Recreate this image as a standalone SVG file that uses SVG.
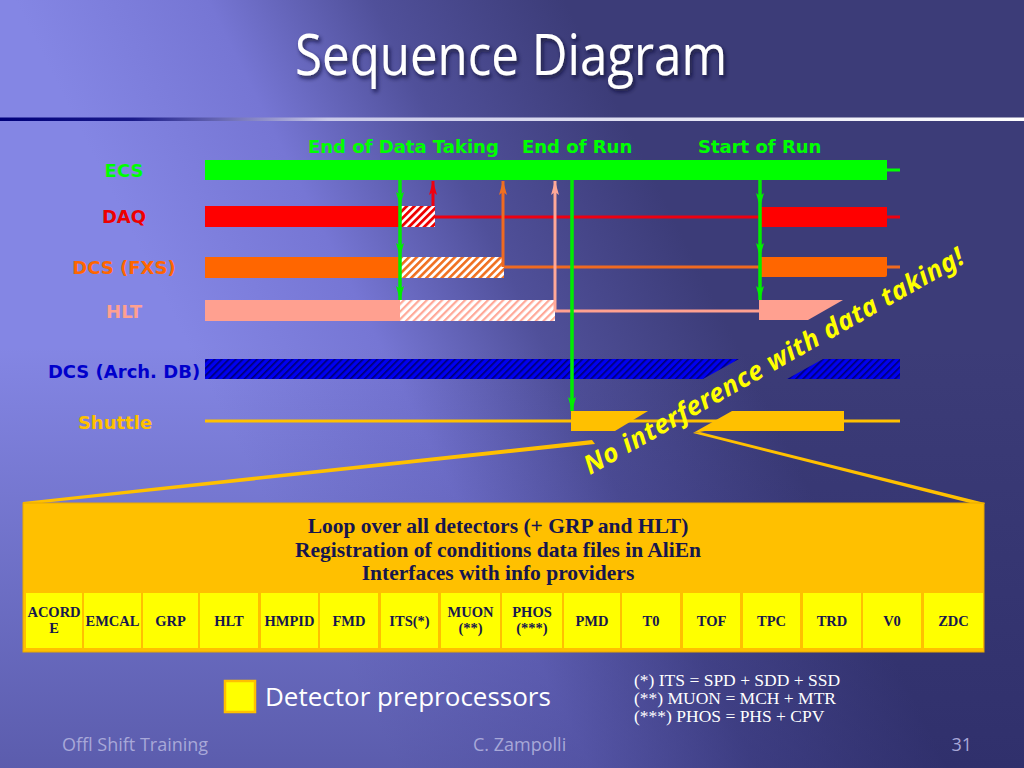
<svg xmlns="http://www.w3.org/2000/svg" width="1024" height="768" viewBox="0 0 1024 768">
<defs>
  <linearGradient id="bg" gradientUnits="userSpaceOnUse" x1="180" y1="330" x2="620" y2="110">
    <stop offset="0" stop-color="#8486e4"/>
    <stop offset="0.35" stop-color="#7676d4"/>
    <stop offset="0.65" stop-color="#50509a"/>
    <stop offset="1" stop-color="#3c3c78"/>
  </linearGradient>
  <linearGradient id="shade" x1="0" y1="0" x2="0" y2="1">
    <stop offset="0" stop-color="#1e1e5a" stop-opacity="0"/>
    <stop offset="0.45" stop-color="#1e1e5a" stop-opacity="0"/>
    <stop offset="1" stop-color="#1e1e5a" stop-opacity="0.4"/>
  </linearGradient>
  <linearGradient id="rule" x1="0" y1="0" x2="1" y2="0">
    <stop offset="0" stop-color="#00007a"/>
    <stop offset="0.13" stop-color="#1a1a8a"/>
    <stop offset="0.32" stop-color="#c8c8e8"/>
    <stop offset="1" stop-color="#ffffff"/>
  </linearGradient>
  <pattern id="hRed" patternUnits="userSpaceOnUse" width="5.4" height="10" patternTransform="rotate(45)">
    <rect width="5.4" height="10" fill="#ffffff"/>
    <rect width="2.8" height="10" fill="#ee0000"/>
  </pattern>
  <pattern id="hOrange" patternUnits="userSpaceOnUse" width="5.4" height="10" patternTransform="rotate(45)">
    <rect width="5.4" height="10" fill="#ffffff"/>
    <rect width="2.6" height="10" fill="#f07020"/>
  </pattern>
  <pattern id="hPink" patternUnits="userSpaceOnUse" width="5.4" height="10" patternTransform="rotate(45)">
    <rect width="5.4" height="10" fill="#ffffff"/>
    <rect width="2.2" height="10" fill="#ffa898"/>
  </pattern>
  <pattern id="hBlue" patternUnits="userSpaceOnUse" width="5" height="10" patternTransform="rotate(45)">
    <rect width="5" height="10" fill="#0000f0"/>
    <rect width="1.6" height="10" fill="#000070"/>
  </pattern>
  <marker id="aG" markerUnits="userSpaceOnUse" viewBox="0 0 14 8" markerWidth="14" markerHeight="8" refX="14" refY="4" orient="auto">
    <path d="M0,0 L14,4 L0,8 L3,4 z" fill="#00ee00"/>
  </marker>
  <marker id="aR" markerUnits="userSpaceOnUse" viewBox="0 0 14 8" markerWidth="14" markerHeight="8" refX="14" refY="4" orient="auto">
    <path d="M0,0 L14,4 L0,8 L3,4 z" fill="#ee0010"/>
  </marker>
  <marker id="aO" markerUnits="userSpaceOnUse" viewBox="0 0 14 8" markerWidth="14" markerHeight="8" refX="14" refY="4" orient="auto">
    <path d="M0,0 L14,4 L0,8 L3,4 z" fill="#f07020"/>
  </marker>
  <marker id="aP" markerUnits="userSpaceOnUse" viewBox="0 0 14 8" markerWidth="14" markerHeight="8" refX="14" refY="4" orient="auto">
    <path d="M0,0 L14,4 L0,8 L3,4 z" fill="#ffa898"/>
  </marker>
  <filter id="shadow" x="-10%" y="-30%" width="120%" height="160%">
    <feDropShadow dx="2" dy="3" stdDeviation="2" flood-color="#101030" flood-opacity="0.8"/>
  </filter>
</defs>
<style>
  .lbl { font-family: "DejaVu Sans", Verdana, sans-serif; font-weight: bold; font-size: 18px; text-anchor: middle; }
  .evt { font-family: "DejaVu Sans", Verdana, sans-serif; font-weight: bold; font-size: 18px; fill: #00ff00; }
  .panel { font-family: "Liberation Serif", "Times New Roman", serif; font-weight: bold; font-size: 21.5px; fill: #16164e; text-anchor: middle; }
  .cell { fill: #ffff00; }
  .ct { font-family: "Liberation Serif", "Times New Roman", serif; font-weight: bold; font-size: 14.5px; fill: #16164e; text-anchor: middle; }
  .note { font-family: "Liberation Serif", "Times New Roman", serif; font-size: 17.5px; fill: #ffffff; }
  .foot { font-family: "Open Sans", "Noto Sans", sans-serif; font-size: 18px; fill: #a8a8d8; }
  .g { stroke: #00ee00; stroke-width: 3.5; fill: none; }
</style>

<rect width="1024" height="768" fill="url(#bg)"/>
<rect width="1024" height="768" fill="url(#shade)"/>
<rect x="0" y="117.5" width="1024" height="3.5" fill="url(#rule)"/>

<text x="511" y="75" font-family="'Open Sans', 'Noto Sans', sans-serif" font-size="56" fill="#ffffff" text-anchor="middle" textLength="432" lengthAdjust="spacingAndGlyphs" filter="url(#shadow)">Sequence Diagram</text>

<text class="evt" x="308" y="153">End of Data Taking</text>
<text class="evt" x="522" y="153">End of Run</text>
<text class="evt" x="698" y="153">Start of Run</text>

<g id="ECS">
  <text class="lbl" x="124" y="177" fill="#00ff00">ECS</text>
  <line x1="887" y1="170" x2="900" y2="170" stroke="#00ff00" stroke-width="3"/>
  <rect x="205" y="160" width="682" height="20" fill="#00ff00"/>
</g>

<g id="DAQ">
  <text class="lbl" x="124" y="223" fill="#ee0000">DAQ</text>
  <line x1="435" y1="217" x2="900" y2="217" stroke="#ee0010" stroke-width="3"/>
  <rect x="205" y="206" width="196" height="21" fill="#ff0000"/>
  <rect x="401" y="206" width="34" height="21" fill="url(#hRed)"/>
  <rect x="761" y="207" width="126" height="20" fill="#ff0000"/>
</g>

<g id="DCS_FXS">
  <text class="lbl" x="124" y="274" fill="#ff6600">DCS (FXS)</text>
  <line x1="503" y1="267" x2="900" y2="267" stroke="#f06a20" stroke-width="3"/>
  <rect x="205" y="257" width="196" height="21" fill="#ff6600"/>
  <rect x="401" y="257" width="103" height="21" fill="url(#hOrange)"/>
  <path d="M761,257 H887 V275 Q887,277 885,277 H761 Z" fill="#ff6600"/>
</g>

<g id="HLT">
  <text class="lbl" x="124" y="318" fill="#ffa090">HLT</text>
  <line x1="555" y1="311" x2="760" y2="311" stroke="#ffa090" stroke-width="3"/>
  <rect x="205" y="300" width="195" height="21" fill="#ffa090"/>
  <rect x="400" y="300" width="155" height="21" fill="url(#hPink)"/>
  <polygon points="759,300 843,300 808,320 759,320" fill="#ffa090"/>
</g>

<g id="DCS_Arch">
  <text class="lbl" x="124" y="378" fill="#0000cc">DCS (Arch. DB)</text>
  <polygon points="205,359 739,359 703,379 205,379" fill="url(#hBlue)"/>
  <polygon points="823,359 900,359 900,379 787,379" fill="url(#hBlue)"/>
</g>

<g id="Shuttle">
  <text class="lbl" x="115" y="429" fill="#ffc000">Shuttle</text>
  <line x1="205" y1="421" x2="900" y2="421" stroke="#ffc000" stroke-width="3"/>
  <polygon points="571,411 648,411 615,431 571,431" fill="#ffc000"/>
  <polygon points="732,411 844,411 844,431 705,431 693,433" fill="#ffc000"/>
  <polygon points="592,440 595,444 23,505 23,502" fill="#ffc000"/>
  <polygon points="693,433 700,432 985,503 982,506" fill="#ffc000"/>
</g>

<g id="connectors">
  <path class="g" d="M400,180 V206" marker-end="url(#aG)"/>
  <path class="g" d="M400,206 V257" marker-end="url(#aG)"/>
  <path class="g" d="M400,257 V300" marker-end="url(#aG)"/>
  <path d="M433,206 V181" stroke="#ee0010" stroke-width="3" fill="none" marker-end="url(#aR)"/>
  <path d="M503,267 V181" stroke="#f06a20" stroke-width="3" fill="none" marker-end="url(#aO)"/>
  <path d="M555,311 V181" stroke="#ffa898" stroke-width="3" fill="none" marker-end="url(#aP)"/>
  <path class="g" d="M572,180 V411" marker-end="url(#aG)"/>
  <path class="g" d="M760,180 V207" marker-end="url(#aG)"/>
  <path class="g" d="M760,207 V257" marker-end="url(#aG)"/>
  <path class="g" d="M760,257 V300" marker-end="url(#aG)"/>
</g>

<text transform="translate(590,475) rotate(-29.5)" font-family="'Noto Sans', 'Open Sans', sans-serif" font-size="26" font-weight="bold" font-style="italic" fill="#ffff00" textLength="432">No interference with data taking!</text>

<g id="preprocessors">
  <rect x="23" y="503" width="961" height="149" fill="#ffc000" stroke="#e8a800" stroke-width="1"/>
  <text class="panel" x="498" y="533">Loop over all detectors (+ GRP and HLT)</text>
  <text class="panel" x="498" y="557">Registration of conditions data files in AliEn</text>
  <text class="panel" x="498" y="580">Interfaces with info providers</text>

  <g id="cell_ACORDE"><rect class="cell" x="26" y="593" width="56" height="55"/><text class="ct" x="54" y="617">ACORD</text><text class="ct" x="54" y="633">E</text></g>
  <g id="cell_EMCAL"><rect class="cell" x="84" y="593" width="57" height="55"/><text class="ct" x="112.5" y="626">EMCAL</text></g>
  <g id="cell_GRP"><rect class="cell" x="143" y="593" width="55" height="55"/><text class="ct" x="170.5" y="626">GRP</text></g>
  <g id="cell_HLT"><rect class="cell" x="200" y="593" width="58" height="55"/><text class="ct" x="229" y="626">HLT</text></g>
  <g id="cell_HMPID"><rect class="cell" x="261" y="593" width="57" height="55"/><text class="ct" x="289.5" y="626">HMPID</text></g>
  <g id="cell_FMD"><rect class="cell" x="320" y="593" width="58" height="55"/><text class="ct" x="349" y="626">FMD</text></g>
  <g id="cell_ITS"><rect class="cell" x="381" y="593" width="57" height="55"/><text class="ct" x="409.5" y="626">ITS(*)</text></g>
  <g id="cell_MUON"><rect class="cell" x="441" y="593" width="59" height="55"/><text class="ct" x="470.5" y="617">MUON</text><text class="ct" x="470.5" y="633">(**)</text></g>
  <g id="cell_PHOS"><rect class="cell" x="502" y="593" width="60" height="55"/><text class="ct" x="532" y="617">PHOS</text><text class="ct" x="532" y="633">(***)</text></g>
  <g id="cell_PMD"><rect class="cell" x="564" y="593" width="56" height="55"/><text class="ct" x="592" y="626">PMD</text></g>
  <g id="cell_T0"><rect class="cell" x="622" y="593" width="58" height="55"/><text class="ct" x="651" y="626">T0</text></g>
  <g id="cell_TOF"><rect class="cell" x="683" y="593" width="57" height="55"/><text class="ct" x="711.5" y="626">TOF</text></g>
  <g id="cell_TPC"><rect class="cell" x="743" y="593" width="57" height="55"/><text class="ct" x="771.5" y="626">TPC</text></g>
  <g id="cell_TRD"><rect class="cell" x="803" y="593" width="58" height="55"/><text class="ct" x="832" y="626">TRD</text></g>
  <g id="cell_V0"><rect class="cell" x="863" y="593" width="58" height="55"/><text class="ct" x="892" y="626">V0</text></g>
  <g id="cell_ZDC"><rect class="cell" x="924" y="593" width="59" height="55"/><text class="ct" x="953.5" y="626">ZDC</text></g>
</g>

<g id="legend">
  <rect x="225" y="681" width="30" height="31" fill="#ffff00" stroke="#ffc000" stroke-width="2.5"/>
  <text x="265" y="706" font-family="'Open Sans', 'Noto Sans', sans-serif" font-size="26" fill="#ffffff">Detector preprocessors</text>
  <text class="note" x="634" y="686">(*) ITS = SPD + SDD + SSD</text>
  <text class="note" x="634" y="704">(**) MUON = MCH + MTR</text>
  <text class="note" x="634" y="722">(***) PHOS = PHS + CPV</text>
</g>

<text class="foot" x="62" y="751">Offl Shift Training</text>
<text class="foot" x="473" y="751">C. Zampolli</text>
<text class="foot" x="972" y="751" text-anchor="end">31</text>
</svg>
